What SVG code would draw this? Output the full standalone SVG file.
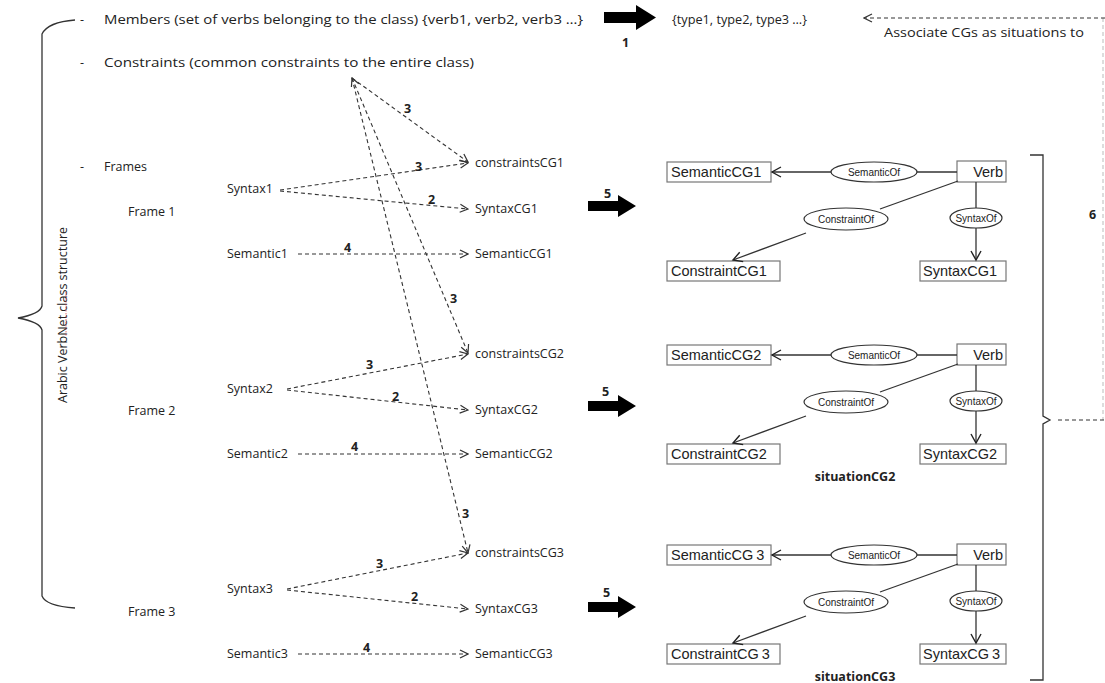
<svg xmlns="http://www.w3.org/2000/svg" width="1105" height="683" viewBox="0 0 1105 683">
<defs>
<marker id="open" markerWidth="10" markerHeight="10" refX="9" refY="5" orient="auto-start-reverse" markerUnits="userSpaceOnUse">
<path d="M1,1 L9,5 L1,9" fill="none" stroke="#333" stroke-width="1.2"/>
</marker>
<marker id="openS" markerWidth="12" markerHeight="12" refX="10" refY="6" orient="auto" markerUnits="userSpaceOnUse">
<path d="M1,1 L10,6 L1,11" fill="none" stroke="#222" stroke-width="1.4"/>
</marker>
<g id="cg">
<rect class="box" x="667" y="162" width="104" height="20"/>
<rect class="box" x="957" y="161" width="49" height="21"/>
<ellipse class="ell" cx="874" cy="172" rx="43" ry="10"/>
<ellipse class="ell" cx="846" cy="219" rx="42" ry="11"/>
<ellipse class="ell" cx="976" cy="218" rx="26" ry="10"/>
<rect class="box" x="667" y="261" width="113" height="20"/>
<rect class="box" x="920" y="261" width="86" height="20"/>
<path class="sol" d="M957,172 L917,172"/>
<path class="sol" d="M831,172 L772,172" marker-end="url(#openS)"/>
<path class="sol" d="M958,181 L880,209"/>
<path class="sol" d="M806,233 L733,260" marker-end="url(#openS)"/>
<path class="sol" d="M976,182 L976,208"/>
<path class="sol" d="M976,228 L976,260" marker-end="url(#openS)"/>
<text class="el" x="874" y="175.5" text-anchor="middle">SemanticOf</text>
<text class="el" x="846" y="222.5" text-anchor="middle">ConstraintOf</text>
<text class="el" x="976" y="221.5" text-anchor="middle">SyntaxOf</text>
<text class="bx" x="1003" y="177" text-anchor="end">Verb</text>
</g>
</defs>
<style>
.t{font-family:"Open Sans","Liberation Sans",sans-serif;font-size:12.5px;fill:#222}
.n{font-family:"Open Sans","Liberation Sans",sans-serif;font-size:12.5px;font-weight:bold;fill:#222}
.bx{font-family:"Liberation Sans",Arial,sans-serif;font-size:14.5px;fill:#222}
.el{font-family:"Liberation Sans",Arial,sans-serif;font-size:10px;fill:#222}
.box{fill:#fff;stroke:#777;stroke-width:1.2}
.ell{fill:#fff;stroke:#333;stroke-width:1.2}
.sol{fill:none;stroke:#333;stroke-width:1.3}
.d{fill:none;stroke:#333;stroke-width:1.1;stroke-dasharray:4 3}
.br{fill:none;stroke:#333;stroke-width:1.3}
.blk{fill:#000}
</style>
<rect width="1105" height="683" fill="#fff"/>

<g id="left-bracket">
<path class="br" d="M75,20 Q48,22 42,34 L42,306 Q40,314 18,318 Q40,322 42,330 L42,596 Q46,606 75,608"/>
<text class="t" transform="translate(67,315) rotate(-90)" text-anchor="middle">Arabic VerbNet class structure</text>
<path d="M66,292 L66,337" stroke="#d33" stroke-width="1" stroke-dasharray="1.5 1.5" fill="none" opacity="0.7"/>
</g>

<g id="members">
<text class="t" x="80" y="24">-</text>
<text class="t" x="104" y="24" textLength="479" lengthAdjust="spacingAndGlyphs">Members (set of verbs belonging to the class)  {verb1, verb2, verb3 …}</text>
</g>
<g id="constraints">
<text class="t" x="80" y="67">-</text>
<text class="t" x="104" y="67" textLength="370" lengthAdjust="spacingAndGlyphs">Constraints (common constraints to the entire class)</text>
</g>
<g id="frames">
<text class="t" x="80" y="171">-</text>
<text class="t" x="104" y="171">Frames</text>
</g>
<g id="types">
<text class="t" x="672" y="24" textLength="135" lengthAdjust="spacingAndGlyphs">{type1, type2, type3 …}</text>
</g>
<g id="associate">
<text class="t" x="884" y="37" textLength="200" lengthAdjust="spacingAndGlyphs">Associate CGs as situations to</text>
</g>

<g id="frame1">
<text class="t" x="128" y="216">Frame 1</text>
<text class="t" x="227" y="193">Syntax1</text>
<text class="t" x="227" y="258">Semantic1</text>
<text class="t" x="475" y="167">constraintsCG1</text>
<text class="t" x="475" y="213">SyntaxCG1</text>
<text class="t" x="475" y="258">SemanticCG1</text>
</g>
<g id="frame2">
<text class="t" x="128" y="415">Frame 2</text>
<text class="t" x="227" y="393">Syntax2</text>
<text class="t" x="227" y="458">Semantic2</text>
<text class="t" x="475" y="358">constraintsCG2</text>
<text class="t" x="475" y="414">SyntaxCG2</text>
<text class="t" x="475" y="458">SemanticCG2</text>
</g>
<g id="frame3">
<text class="t" x="128" y="616">Frame 3</text>
<text class="t" x="227" y="593">Syntax3</text>
<text class="t" x="227" y="658">Semantic3</text>
<text class="t" x="475" y="557">constraintsCG3</text>
<text class="t" x="475" y="613">SyntaxCG3</text>
<text class="t" x="475" y="658">SemanticCG3</text>
</g>

<g id="connectors">
<path class="d" d="M352,78 L468,162" marker-end="url(#open)"/>
<path class="d" d="M352,78 L468,353" marker-start="url(#open)" marker-end="url(#open)"/>
<path class="d" d="M352,78 L468,553" marker-end="url(#open)"/>
<path class="d" d="M280,190 L468,163" marker-end="url(#open)"/>
<path class="d" d="M280,191 L468,209" marker-end="url(#open)"/>
<path class="d" d="M298,254 L468,254" marker-end="url(#open)"/>
<path class="d" d="M287,389 L468,354" marker-end="url(#open)"/>
<path class="d" d="M287,390 L468,410" marker-end="url(#open)"/>
<path class="d" d="M298,454 L468,454" marker-end="url(#open)"/>
<path class="d" d="M287,589 L468,553" marker-end="url(#open)"/>
<path class="d" d="M287,590 L468,609" marker-end="url(#open)"/>
<path class="d" d="M298,654 L468,654" marker-end="url(#open)"/>
<path class="d" d="M1105,18 L864,18" marker-end="url(#open)"/>
<path class="d" d="M1103,18 L1103,420" opacity="0.3"/>
<path class="d" d="M1058,420 L1105,420"/>
<text class="n" x="404" y="113">3</text>
<text class="n" x="415" y="171">3</text>
<text class="n" x="428" y="204">2</text>
<text class="n" x="344" y="252">4</text>
<text class="n" x="450" y="303">3</text>
<text class="n" x="366" y="369">3</text>
<text class="n" x="392" y="401">2</text>
<text class="n" x="351" y="451">4</text>
<text class="n" x="462" y="518">3</text>
<text class="n" x="376" y="568">3</text>
<text class="n" x="411" y="601">2</text>
<text class="n" x="363" y="652">4</text>
<path class="blk" d="M604,12 L636,12 L636,5 L656,17.5 L636,30 L636,23 L604,23 Z"/>
<text class="n" x="622" y="47">1</text>
<path class="blk" d="M588,201 L618,201 L618,195 L636,206 L618,217 L618,211 L588,211 Z"/>
<text class="n" x="604" y="198">5</text>
<path class="blk" d="M588,401 L618,401 L618,395 L636,406 L618,417 L618,411 L588,411 Z"/>
<text class="n" x="602" y="396">5</text>
<path class="blk" d="M588,602 L618,602 L618,596 L636,607 L618,618 L618,612 L588,612 Z"/>
<text class="n" x="603" y="597">5</text>
</g>

<g id="right-bracket">
<path class="br" d="M1030,155 L1043,155 L1043,416 L1050,420 L1043,424 L1043,680 L1030,680"/>
<text class="n" x="1089" y="219">6</text>
</g>

<g id="cg1">
<use href="#cg"/>
<text class="bx" x="671" y="177">SemanticCG1</text>
<text class="bx" x="671" y="276">ConstraintCG1</text>
<text class="bx" x="923" y="276">SyntaxCG1</text>
</g>
<g id="cg2" transform="translate(0,183)">
<use href="#cg"/>
<text class="bx" x="671" y="177">SemanticCG2</text>
<text class="bx" x="671" y="276">ConstraintCG2</text>
<text class="bx" x="923" y="276">SyntaxCG2</text>
<text class="n" x="855" y="298" text-anchor="middle">situationCG2</text>
</g>
<g id="cg3" transform="translate(0,383)">
<use href="#cg"/>
<text class="bx" x="671" y="177">SemanticCG<tspan dx="3">3</tspan></text>
<text class="bx" x="671" y="276">ConstraintCG<tspan dx="3">3</tspan></text>
<text class="bx" x="923" y="276">SyntaxCG<tspan dx="3">3</tspan></text>
<text class="n" x="855" y="298" text-anchor="middle">situationCG3</text>
</g>
</svg>
